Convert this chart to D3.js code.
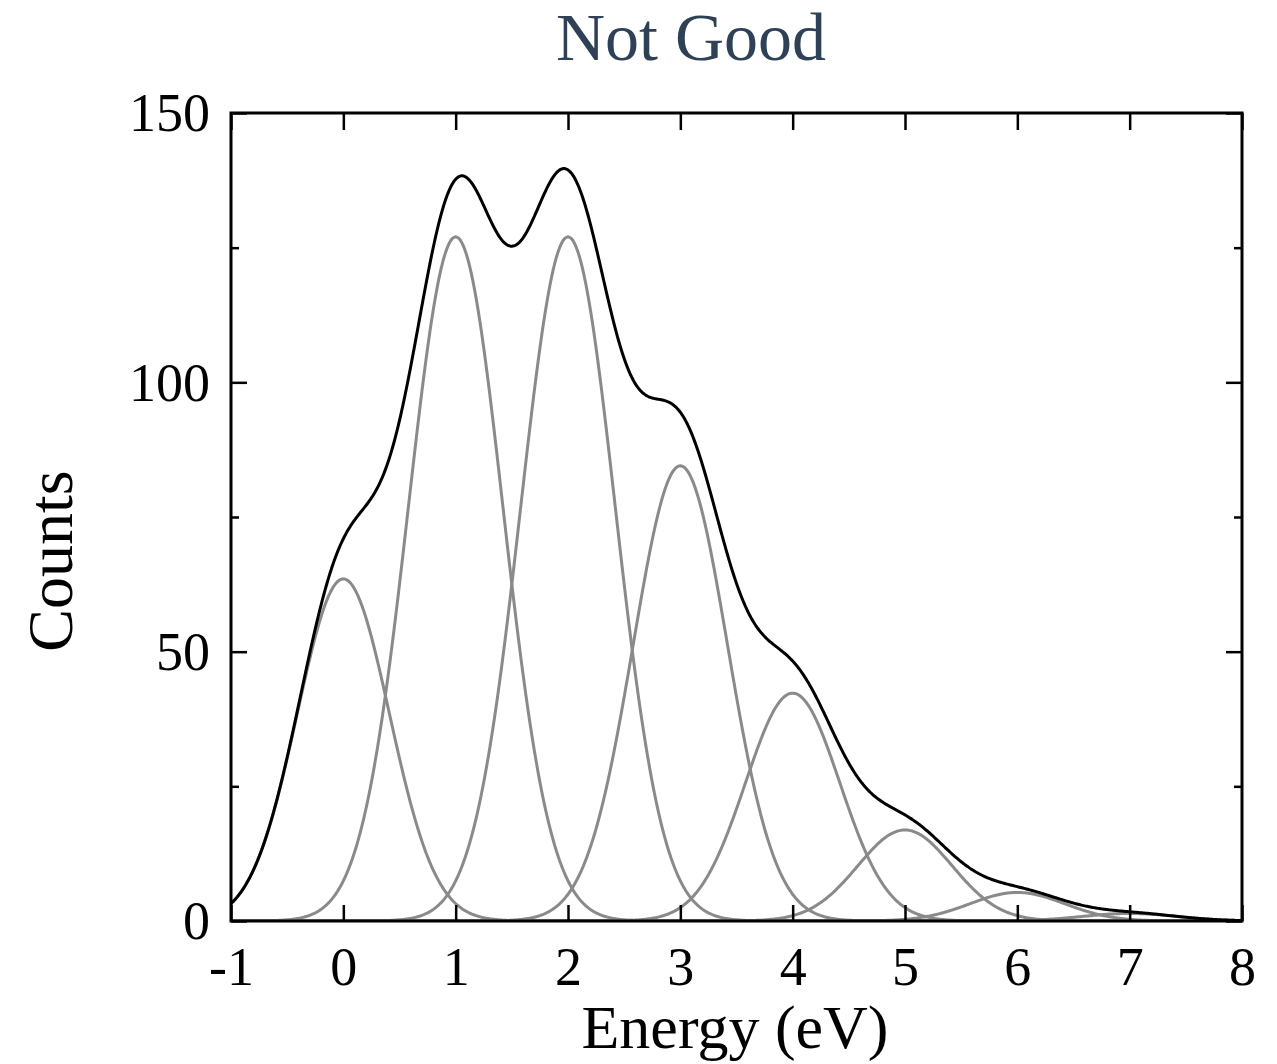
<!DOCTYPE html>
<html>
<head>
<meta charset="utf-8">
<script src="https://cdn.jsdelivr.net/npm/d3@7"></script>
<style>
  body { margin: 0; background: #fff; }
  text { font-family: "Liberation Serif", "Times New Roman", serif; }
</style>
</head>
<body>
<div id="chart"></div>
<script>
// ---- DATA ---------------------------------------------------------
// fitted peaks: centre (eV), height (counts), width (sigma, eV)
var peakCentres = [0, 1, 2, 3, 4, 5, 6, 7];
var peakHeights = [63.5, 127, 127, 84.5, 42.3, 16.9, 5.3, 1.4];
var peakWidths = [0.41, 0.42, 0.42, 0.42, 0.42, 0.42, 0.42, 0.42];

var xTicks = [-1, 0, 1, 2, 3, 4, 5, 6, 7, 8];
var yMajor = [0, 50, 100, 150];
var yMinor = [25, 75, 125];

// ---- VARIABLES ----------------------------------------------------
var w = 1277;
var h = 1064;
var plotL = 231, plotR = 1242, plotT = 113, plotB = 921;

var xScale = d3.scaleLinear().domain([-1, 8]).range([plotL, plotR]);
var yScale = d3.scaleLinear().domain([0, 150]).range([plotB, plotT]);

// sampling grid along the energy axis
var grid = d3.range(-1, 8.0001, 0.01);

function peak(i, x) {
  var d = x - peakCentres[i];
  return peakHeights[i] * Math.exp(-d * d / (2 * peakWidths[i] * peakWidths[i]));
}

var components = peakCentres.map(function(c, i) {
  return grid.map(function(x) { return { x: x, y: peak(i, x) }; });
});
var envelope = grid.map(function(x) {
  var s = 0;
  for (var i = 0; i < peakCentres.length; i++) s += peak(i, x);
  return { x: x, y: s };
});

// ---- BUILD --------------------------------------------------------
var svg = d3.select("#chart")
  .append("svg")
  .attr("width", w)
  .attr("height", h);

svg.append("clipPath")
  .attr("id", "plotClip")
  .append("rect")
  .attr("x", plotL).attr("y", plotT)
  .attr("width", plotR - plotL).attr("height", plotB - plotT);

var line = d3.line()
  .x(function(d) { return xScale(d.x); })
  .y(function(d) { return yScale(d.y); });

var plot = svg.append("g").attr("clip-path", "url(#plotClip)");

plot.selectAll(".component")
  .data(components)
  .enter()
  .append("path")
  .attr("class", "component")
  .attr("d", line)
  .attr("fill", "none")
  .attr("stroke", "#8a8a8a")
  .attr("stroke-width", 3);

plot.append("path")
  .datum(envelope)
  .attr("d", line)
  .attr("fill", "none")
  .attr("stroke", "#000")
  .attr("stroke-width", 3);

// axes: ticks point inwards
function styleAxis(g) {
  g.select(".domain").remove();
  g.selectAll(".tick line").attr("stroke", "#000").attr("stroke-width", 2.5);
  g.selectAll(".tick text")
    .attr("fill", "#000")
    .style("font-size", "54px");
}

var plainFormat = function(d) { return String(d); };

svg.append("g")
  .attr("transform", "translate(0," + plotB + ")")
  .call(d3.axisBottom(xScale).tickValues(xTicks).tickSize(-16).tickPadding(26)
    .tickFormat(plainFormat))
  .call(styleAxis)
  .selectAll(".tick text").attr("dy", "0.71em");

svg.append("g")
  .attr("transform", "translate(0," + plotT + ")")
  .call(d3.axisTop(xScale).tickValues(xTicks).tickSize(-17).tickFormat(""))
  .call(styleAxis);

svg.append("g")
  .attr("transform", "translate(" + plotL + ",0)")
  .call(d3.axisLeft(yScale).tickValues(yMajor).tickSize(-16).tickPadding(21)
    .tickFormat(plainFormat))
  .call(styleAxis)
  .selectAll(".tick text").attr("dy", "0.33em");

svg.append("g")
  .attr("transform", "translate(" + plotL + ",0)")
  .call(d3.axisLeft(yScale).tickValues(yMinor).tickSize(-8).tickFormat(""))
  .call(styleAxis);

svg.append("g")
  .attr("transform", "translate(" + plotR + ",0)")
  .call(d3.axisRight(yScale).tickValues(yMajor).tickSize(-16).tickFormat(""))
  .call(styleAxis);

svg.append("g")
  .attr("transform", "translate(" + plotR + ",0)")
  .call(d3.axisRight(yScale).tickValues(yMinor).tickSize(-8).tickFormat(""))
  .call(styleAxis);

// frame
svg.append("rect")
  .attr("x", plotL).attr("y", plotT)
  .attr("width", plotR - plotL).attr("height", plotB - plotT)
  .attr("fill", "none")
  .attr("stroke", "#000")
  .attr("stroke-width", 3);

// labels
svg.append("text")
  .attr("x", 735).attr("y", 1048)
  .attr("text-anchor", "middle")
  .style("font-size", "62px")
  .text("Energy (eV)");

svg.append("text")
  .attr("transform", "translate(72,561) rotate(-90)")
  .attr("text-anchor", "middle")
  .style("font-size", "64px")
  .text("Counts");

svg.append("text")
  .attr("x", 691).attr("y", 60)
  .attr("text-anchor", "middle")
  .attr("fill", "#2e4157")
  .style("font-size", "68px")
  .text("Not Good");
</script>
</body>
</html>
